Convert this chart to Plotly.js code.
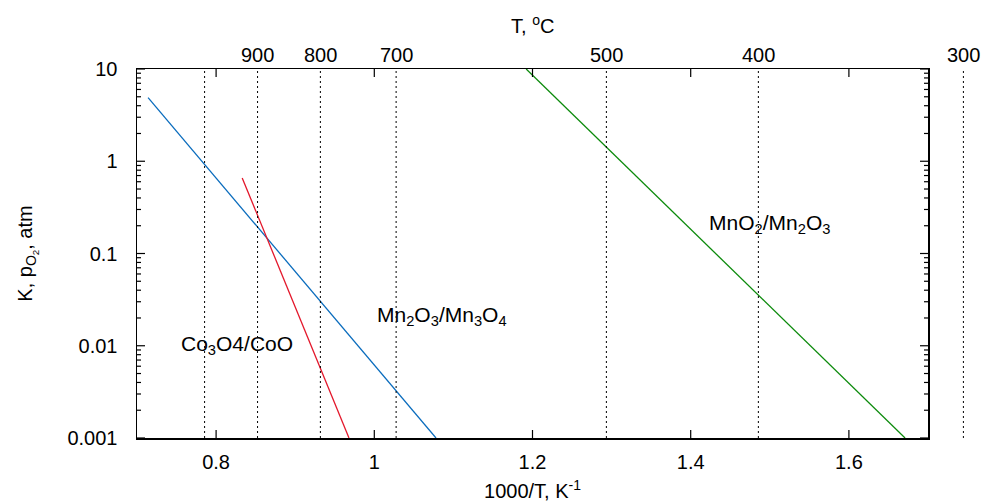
<!DOCTYPE html>
<html>
<head>
<meta charset="utf-8">
<script src="https://cdn.plot.ly/plotly-3.0.1.min.js"></script>
<style>html,body{margin:0;padding:0;background:#fff;}#chart{width:983px;height:502px;}</style>
</head>
<body>
<div id="chart"></div>
<script>
// ---- data ----
const xRange = [0.7, 1.7];            // 1000/T, K^-1
const yRangeLog = [-3, 1];            // 0.001 .. 10
const xTickVals = [0.8, 1.0, 1.2, 1.4, 1.6];
const xTickText = ['0.8', '1', '1.2', '1.4', '1.6'];
const yTickVals = [0.001, 0.01, 0.1, 1, 10];
const yTickText = ['0.001', '0.01', '0.1', '1', '10'];
const yMinorMultipliers = [2, 3, 4, 5, 6, 7, 8, 9];

// temperatures (°C) with dotted guide lines
const guideTempsC = [1000, 900, 800, 700, 500, 400, 300];
// temperatures labelled on top
const topLabelTempsC = [900, 800, 700, 500, 400, 300];

// equilibrium lines (1000/T, K)
const mn2o3X = [0.714, 1.078];
const mn2o3Y = [4.9, 0.001];
const co3o4X = [0.833, 0.968];
const co3o4Y = [0.66, 0.001];
const mno2X = [1.192, 1.671];
const mno2Y = [10, 0.001];

const labels = [
  {text: 'Co<sub>3</sub>O4/CoO', x: 0.826, y: 0.0102},
  {text: 'Mn<sub>2</sub>O<sub>3</sub>/Mn<sub>3</sub>O<sub>4</sub>', x: 1.0855, y: 0.021},
  {text: 'MnO<sub>2</sub>/Mn<sub>2</sub>O<sub>3</sub>', x: 1.50, y: 0.21}
];

// ---- build ----
const FONT = 'Liberation Sans, Arial, Helvetica, sans-serif';
const toInv = t => 1000 / (t + 273.15);
const toPaperX = v => (v - xRange[0]) / (xRange[1] - xRange[0]);
const toPaperY = v => (Math.log10(v) - yRangeLog[0]) / (yRangeLog[1] - yRangeLog[0]);

const traces = [
  {x: mn2o3X, y: mn2o3Y, mode: 'lines', line: {color: '#0a6cbd', width: 1.3}, hoverinfo: 'skip'},
  {x: co3o4X, y: co3o4Y, mode: 'lines', line: {color: '#e3172b', width: 1.3}, hoverinfo: 'skip'},
  {x: mno2X, y: mno2Y, mode: 'lines', line: {color: '#0b8a0b', width: 1.3}, hoverinfo: 'skip'}
];

const shapes = guideTempsC.map(t => ({
  type: 'line', xref: 'paper', yref: 'paper',
  x0: toPaperX(toInv(t)), x1: toPaperX(toInv(t)), y0: 0, y1: 1,
  line: {color: '#000', width: 1, dash: '2px,3px'}
}));

// tick marks (inward, mirrored)
const tickLine = {color: '#000', width: 1.2};
xTickVals.forEach(v => {
  const p = toPaperX(v);
  shapes.push({type: 'line', xref: 'paper', yref: 'paper', ysizemode: 'pixel', yanchor: 0,
    x0: p, x1: p, y0: 0, y1: 8, line: tickLine});
  shapes.push({type: 'line', xref: 'paper', yref: 'paper', ysizemode: 'pixel', yanchor: 1,
    x0: p, x1: p, y0: 0, y1: -8, line: tickLine});
});
function yTick(v, len) {
  const p = toPaperY(v);
  shapes.push({type: 'line', xref: 'paper', yref: 'paper', xsizemode: 'pixel', xanchor: 0,
    y0: p, y1: p, x0: 0, x1: len, line: tickLine});
  shapes.push({type: 'line', xref: 'paper', yref: 'paper', xsizemode: 'pixel', xanchor: 1,
    y0: p, y1: p, x0: 0, x1: -len, line: tickLine});
}
yTickVals.forEach(v => yTick(v, 8));
yTickVals.slice(0, -1).forEach(d => yMinorMultipliers.forEach(m => yTick(d * m, 4)));

const annotations = [];
topLabelTempsC.forEach(t => {
  annotations.push({
    xref: 'paper', yref: 'paper', x: toPaperX(toInv(t)), y: 1,
    xanchor: 'center', yanchor: 'bottom', yshift: 1,
    text: String(t), showarrow: false, font: {family: FONT, size: 20, color: '#000'}
  });
});
annotations.push({
  xref: 'paper', yref: 'paper', x: 0.5, y: 1, yanchor: 'bottom', xanchor: 'center', yshift: 30,
  text: 'T, <sup>o</sup>C', showarrow: false, font: {family: FONT, size: 20, color: '#000'}
});
labels.forEach(l => {
  annotations.push({
    xref: 'x', yref: 'y', x: l.x, y: Math.log10(l.y), xanchor: 'center', yanchor: 'middle',
    text: l.text, showarrow: false, font: {family: FONT, size: 21, color: '#000'}
  });
});

const layout = {
  width: 983, height: 502,
  margin: {l: 137, r: 55, t: 69, b: 64},
  paper_bgcolor: '#fff', plot_bgcolor: '#fff',
  showlegend: false,
  font: {family: FONT, size: 20, color: '#000'},
  xaxis: {
    range: xRange, showgrid: false, zeroline: false,
    showline: true, linecolor: '#000', linewidth: 1.5, mirror: true,
    ticks: '', tickmode: 'array', tickvals: xTickVals, ticktext: xTickText, ticklabelstandoff: 5,
    title: {text: '1000/T, K<sup>-1</sup>', standoff: 24, font: {family: FONT, size: 20}}
  },
  yaxis: {
    type: 'log', range: yRangeLog, showgrid: false, zeroline: false,
    showline: true, linecolor: '#000', linewidth: 1.5, mirror: true,
    ticks: '', tickmode: 'array', tickvals: yTickVals, ticktext: yTickText, ticklabelstandoff: 14,
    title: {text: 'K, p<sub>O<sub>2</sub></sub>, atm', standoff: 29, font: {family: FONT, size: 20}}
  },
  shapes: shapes,
  annotations: annotations
};

Plotly.newPlot('chart', traces, layout, {staticPlot: true, displayModeBar: false});
</script>
</body>
</html>
